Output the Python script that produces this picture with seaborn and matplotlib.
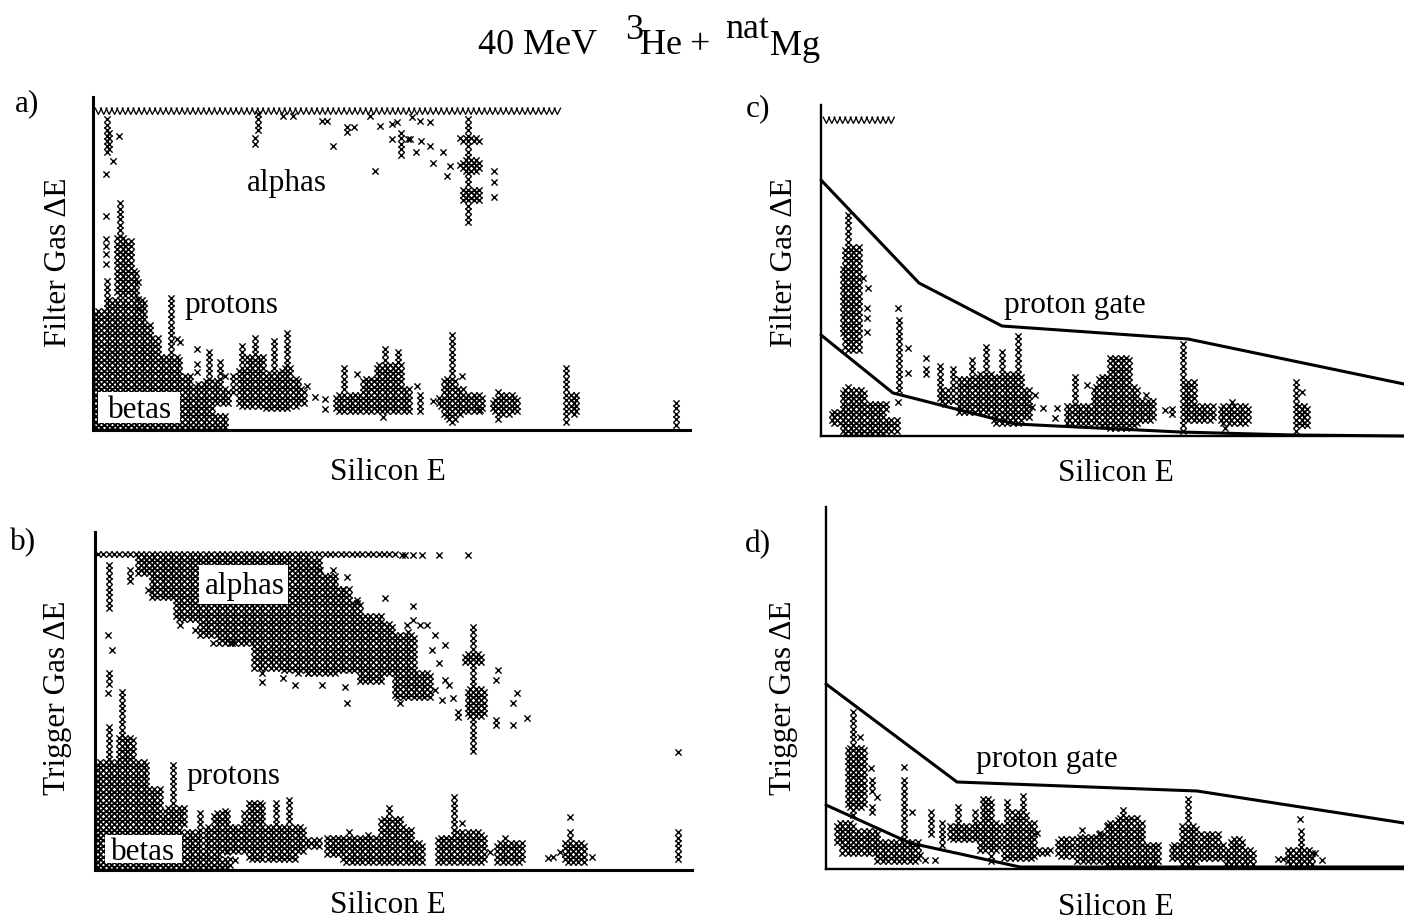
import matplotlib
matplotlib.use('Agg')
import matplotlib.pyplot as plt
from matplotlib.path import Path
from matplotlib.patches import Rectangle
import pandas as pd
import seaborn as sns

# Spans are (E_lo, E_hi, dE_lo, dE_hi),
# areas of the event lattice that are filled. Points are lone events.
PITCH = 2.7  # half spacing of the plot's event lattice, in channels

a_wave = [(4, 405), (410, 438), (443, 464)]
a_wave_de = 319
a_spans = [
    (14, 14, 279, 313), (17, 17, 279, 300), (13, 13, 131, 151),
    (27, 27, 134, 228), (24, 30, 134, 194), (30, 37, 134, 188), (37, 42, 134, 160),
    (4, 13, 2, 118), (13, 50, 2, 129), (50, 57, 2, 104), (57, 65, 2, 93), (65, 87, 2, 74),
    (87, 97, 2, 54), (97, 108, 2, 34), (108, 118, 2, 28), (118, 132, 3, 13),
    (77, 77, 74, 133), (100, 112, 31, 44), (112, 125, 31, 48), (125, 134, 26, 40), (117, 117, 41, 78), (127, 127, 41, 71),
    (140, 140, 34, 58), (149, 149, 24, 83), (146, 152, 24, 60), (162, 162, 24, 91), (155, 169, 24, 74),
    (180, 180, 24, 88), (169, 190, 21, 58), (195, 195, 18, 101), (190, 198, 21, 62), (198, 204, 24, 50),
    (204, 210, 28, 41), (244, 317, 18, 34), (252, 252, 31, 66), (270, 284, 18, 50),
    (284, 292, 18, 64), (292, 292, 18, 81), (292, 307, 18, 64), (304, 304, 41, 79),
    (307, 317, 18, 40), (327, 327, 18, 34),
    (358, 358, 8, 96), (345, 350, 24, 32), (350, 354, 15, 48), (354, 362, 10, 50), (362, 370, 15, 40),
    (370, 389, 18, 34),
    (400, 408, 18, 30), (408, 418, 15, 34), (418, 425, 18, 32), (406, 406, 15, 39), (473, 473, 6, 61), (478, 484, 15, 34), (582, 582, 5, 29),
    (376, 376, 204, 311), (367, 387, 288, 292), (370, 385, 260, 270), (367, 387, 262, 266), (370, 385, 230, 241),
    (164, 164, 301, 316), (163, 163, 284, 291), (309, 309, 276, 298),
]
a_points = [
    (26, 294), (20, 269), (13, 256), (13, 214), (13, 191), (13, 184), (13, 176), (13, 166),
    (45, 148), (45, 131), (45, 121), (84, 91), (87, 88), (104, 81), (104, 66), (104, 58), (105, 46),
    (132, 54), (214, 44), (222, 33), (232, 31), (232, 21), (264, 56), (290, 13),
    (324, 44), (340, 29), (369, 54), (387, 20), (405, 11), (319, 313), (327, 309), (337, 308),
    (317, 291), (328, 289), (337, 284), (323, 278), (350, 278), (340, 267), (357, 264), (354, 254),
    (401, 259), (401, 248), (401, 233), (190, 314), (200, 314), (229, 309), (234, 309), (254, 303),
    (254, 298), (261, 303), (240, 284), (277, 314), (287, 304), (299, 306), (304, 308), (299, 291),
    (315, 291), (282, 259),
]

b_row_de = 315
b_row = [(3, 302)]
b_spans = [
    (13, 13, 262, 305), (35, 35, 290, 303), (13, 13, 187, 197), (27, 27, 107, 178),
    (23, 37, 107, 133), (13, 13, 110, 143),
    (42, 58, 297, 312), (58, 82, 272, 312), (82, 105, 252, 312), (105, 125, 235, 312),
    (125, 158, 228, 312), (158, 185, 203, 312), (185, 212, 200, 312), (212, 225, 197, 310),
    (225, 240, 197, 295), (240, 255, 200, 282), (255, 265, 200, 267), (265, 285, 190, 255),
    (285, 296, 196, 247), (300, 318, 172, 235), (322, 335, 172, 197), (312, 312, 205, 238),
    (377, 377, 115, 242), (370, 385, 207, 217), (372, 388, 153, 182),
    (3, 50, 2, 107), (50, 65, 2, 80), (65, 85, 2, 52), (85, 105, 2, 37), (105, 125, 3, 15), (125, 135, 3, 10),
    (78, 78, 47, 105), (70, 88, 47, 63), (105, 105, 32, 56),
    (112, 208, 20, 43), (118, 132, 20, 56), (130, 130, 20, 62), (148, 148, 15, 57), (155, 168, 12, 68),
    (182, 182, 12, 67), (172, 200, 12, 43), (195, 195, 10, 73), (208, 225, 25, 29), (232, 245, 17, 33),
    (248, 315, 7, 33), (255, 255, 7, 40), (272, 272, 7, 37), (295, 295, 7, 62), (285, 305, 7, 50),
    (308, 308, 7, 45), (305, 315, 7, 40), (318, 328, 7, 27),
    (359, 359, 7, 75), (342, 388, 7, 33), (363, 387, 7, 38), (402, 427, 7, 27), (410, 410, 7, 32),
    (475, 475, 7, 40), (470, 490, 8, 27), (584, 584, 7, 37),
]
b_points = [
    (307, 315), (310, 315), (318, 315), (327, 315), (344, 315), (373, 315),
    (225, 300), (238, 300), (252, 293), (248, 280), (290, 272), (262, 270), (85, 245), (100, 240),
    (118, 227), (137, 227), (167, 197), (167, 188), (188, 192), (200, 185), (203, 197), (213, 197),
    (227, 185), (252, 167), (305, 167), (250, 183), (318, 264), (318, 250), (312, 245), (325, 245),
    (332, 245), (340, 235), (337, 220), (350, 225), (344, 207), (350, 190), (354, 185), (340, 180),
    (347, 170), (358, 172), (363, 158), (363, 153), (403, 200), (401, 190), (401, 150), (401, 145),
    (422, 177), (418, 167), (418, 145), (432, 152), (583, 118), (13, 235), (17, 220), (13, 177),
    (53, 280), (132, 18), (140, 10), (367, 47), (395, 18), (453, 12), (458, 13), (465, 18),
    (475, 53), (497, 13),
]

c_wave = [(7, 57), (64, 71)]
c_wave_de = 316
c_upper_e = [0, 98, 181, 367, 583]
c_upper_de = [256, 153, 110, 97, 52]
c_lower_e = [0, 72, 194, 359, 472, 583]
c_lower_de = [101, 43, 12, 4, 1, 0]
c_spans = [
    (28, 28, 86, 221), (24, 37, 86, 189), (22, 39, 103, 169), (77, 77, 46, 118),
    (105, 105, 59, 71), (118, 118, 39, 74), (131, 131, 33, 68), (122, 128, 33, 46),
    (137, 172, 23, 56), (151, 151, 23, 79), (164, 164, 23, 88), (157, 172, 23, 63),
    (174, 185, 14, 60), (185, 200, 14, 63), (200, 209, 18, 45), (182, 182, 20, 84), (196, 196, 14, 99),
    (11, 22, 14, 24), (22, 42, 3, 46), (42, 62, 3, 33), (62, 76, 5, 16), (66, 66, 26, 36),
    (246, 289, 13, 29), (254, 254, 29, 61), (272, 285, 13, 49), (284, 284, 13, 60),
    (279, 289, 10, 60), (289, 309, 9, 78), (309, 316, 12, 49), (316, 331, 15, 34),
    (351, 351, 20, 29), (361, 361, 6, 93), (362, 392, 15, 31), (362, 373, 33, 53),
    (399, 427, 13, 29), (474, 474, 3, 58), (479, 485, 10, 29),
]
c_points = [
    (42, 158), (47, 148), (46, 128), (46, 118), (46, 104), (77, 128), (87, 88), (87, 63), (77, 34),
    (105, 78), (214, 41), (211, 29), (222, 28), (236, 28), (234, 18), (27, 49), (266, 51),
    (325, 41), (344, 26), (411, 34), (404, 8), (481, 44),
]

d_upper_e = [0, 131, 371, 578]
d_upper_de = [185, 87, 78, 46]
d_lower_e = [0, 84, 194, 578]
d_lower_de = [64, 26, 2, 2]
d_spans = [
    (26, 26, 52, 157), (22, 37, 62, 122), (46, 46, 76, 89), (46, 46, 56, 66), (78, 78, 31, 91),
    (104, 104, 32, 56), (11, 27, 26, 46), (17, 51, 16, 39), (51, 91, 9, 26),
    (117, 117, 22, 49), (124, 151, 29, 42), (131, 131, 29, 61), (149, 149, 29, 56),
    (164, 164, 9, 69), (157, 166, 46, 69), (154, 174, 19, 46),
    (177, 207, 11, 46), (182, 182, 11, 67), (196, 196, 11, 72), (187, 200, 11, 56),
    (211, 224, 17, 20), (231, 247, 14, 29), (251, 284, 9, 32), (274, 284, 9, 34),
    (281, 317, 6, 46), (297, 297, 6, 59), (291, 311, 6, 50), (317, 331, 6, 24),
    (361, 361, 6, 72), (346, 396, 11, 24), (357, 371, 6, 42), (374, 391, 11, 34),
    (399, 426, 6, 19), (406, 416, 6, 29), (474, 474, 4, 37), (462, 486, 6, 19),
]
d_points = [
    (34, 132), (45, 101), (51, 72), (78, 102), (86, 57), (94, 14), (99, 9), (109, 9),
    (211, 36), (256, 39), (274, 36), (282, 44), (452, 10), (457, 10), (474, 50), (489, 16), (496, 9),
]


def lattice_events(spans, points):
    seen = set()
    for e0, e1, d0, d1 in spans:
        for i in range(round(e0 / PITCH), round(e1 / PITCH) + 1):
            for j in range(round(d0 / PITCH), round(d1 / PITCH) + 1):
                if (i + j) % 2 == 0:
                    seen.add((i * PITCH, j * PITCH))
    rows = sorted(seen) + list(points)
    return pd.DataFrame(rows, columns=['silicon_e', 'gas_de'])


def wave_events(runs, de):
    rows = []
    for e0, e1 in runs:
        for i in range(round(e0 / (2 * PITCH)), round(e1 / (2 * PITCH)) + 1):
            rows.append((i * 2 * PITCH, de))
    return pd.DataFrame(rows, columns=['silicon_e', 'gas_de'])


W, H = 1404, 922
sns.set_theme(style='white')
plt.rcParams['font.family'] = ['Liberation Serif', 'DejaVu Serif']
fig = plt.figure(figsize=(W / 100, H / 100), dpi=100, facecolor='white')


def panel(x0, x1, y_top, y_bot, spans, points, lw):
    ax = fig.add_axes([x0 / W, 1 - y_bot / H, (x1 - x0) / W, (y_bot - y_top) / H])
    ax.set_facecolor('none')
    ax.set_xlim(0, x1 - x0)
    ax.set_ylim(0, y_bot - y_top)
    ax.set_xticks([])
    ax.set_yticks([])
    sns.despine(ax=ax)
    ax.spines['left'].set_linewidth(lw)
    ax.spines['bottom'].set_linewidth(lw)
    ax.spines['left'].set_color('black')
    ax.spines['bottom'].set_color('black')
    sns.scatterplot(data=lattice_events(spans, points), x='silicon_e', y='gas_de', marker='x',
                    s=20, linewidth=1.0, color='black', legend=False, clip_on=False, ax=ax)
    ax.set_xlabel('')
    ax.set_ylabel('')
    return ax


# saturated top row, only the lower half of each cross is left in the scan
zigzag = Path([(-1, 1), (0, -1), (1, 1)], closed=False)


def draw_wave(ax, runs, de):
    sns.scatterplot(data=wave_events(runs, de), x='silicon_e', y='gas_de', marker=zigzag, s=24,
                    linewidth=0.95, facecolor='none', edgecolor='black', legend=False, clip_on=False, ax=ax)
    ax.set_xlabel('')
    ax.set_ylabel('')


def draw_gate(ax, e, de, lw=2.2):
    sns.lineplot(x=e, y=de, sort=False, estimator=None, color='black', linewidth=lw, clip_on=False, ax=ax)
    ax.set_xlabel('')
    ax.set_ylabel('')


def white_box(ax, x0, x1, y_top, y_bot, ax_x0, ax_y_bot):
    ax.add_patch(Rectangle((x0 - ax_x0, ax_y_bot - y_bot), x1 - x0, y_bot - y_top,
                           facecolor='white', edgecolor='none', zorder=5))


def label(x, y, s, size=22.5, **kw):
    fig.text(x / W, 1 - y / H, s, fontsize=size, ha='center', va='center', color='black', **kw)


ax_a = panel(93, 690, 97, 430, a_spans, a_points, 2.2)
draw_wave(ax_a, a_wave, a_wave_de)
white_box(ax_a, 98, 180, 392, 423, 93, 430)

b_spans_all = b_spans + [(a, b, b_row_de, b_row_de) for a, b in b_row]
ax_b = panel(95, 692, 532, 870, b_spans_all, b_points, 2.2)
white_box(ax_b, 199, 288, 565, 604, 95, 870)
white_box(ax_b, 105, 182, 835, 863, 95, 870)

ax_c = panel(821, 1404, 105, 436, c_spans, c_points, 1.7)
draw_wave(ax_c, c_wave, c_wave_de)
draw_gate(ax_c, c_upper_e, c_upper_de)
draw_gate(ax_c, c_lower_e, c_lower_de)

ax_d = panel(826, 1404, 507, 869, d_spans, d_points, 1.7)
draw_gate(ax_d, d_upper_e, d_upper_de)
draw_gate(ax_d, d_lower_e, d_lower_de)

# title is pieced together since the scan has its own odd super/subscript spacing
fig.text(478 / W, 1 - 54 / H, '40 MeV', fontsize=26, ha='left', va='baseline', color='black')
fig.text(625 / W, 1 - 39 / H, '3', fontsize=26, ha='left', va='baseline', color='black')
fig.text(640 / W, 1 - 54 / H, 'He', fontsize=26, ha='left', va='baseline', color='black')
fig.text(689 / W, 1 - 54 / H, '+', fontsize=26, ha='left', va='baseline', color='black')
fig.text(725 / W, 1 - 38 / H, 'nat', fontsize=26, ha='left', va='baseline', color='black')
fig.text(770 / W, 1 - 55 / H, 'Mg', fontsize=26, ha='left', va='baseline', color='black')

label(27, 104, 'a)')
label(23, 543, 'b)')
label(758, 109, 'c)')
label(758, 545, 'd)')

label(388, 472, 'Silicon E')
label(388, 905, 'Silicon E')
label(1116, 473, 'Silicon E')
label(1116, 907, 'Silicon E')

label(59, 262, 'Filter Gas ΔE', rotation=90)
label(57, 698, 'Trigger Gas ΔE', rotation=90)
label(784, 262, 'Filter Gas ΔE', rotation=90)
label(784, 698, 'Trigger Gas ΔE', rotation=90)

label(287, 183, 'alphas')
label(231, 305, 'protons')
label(140, 410, 'betas')
label(245, 586, 'alphas')
label(233, 776, 'protons')
label(143, 852, 'betas')
label(1075, 305, 'proton gate')
label(1047, 759, 'proton gate')

fig.savefig('out.png', dpi=100, facecolor='white')
